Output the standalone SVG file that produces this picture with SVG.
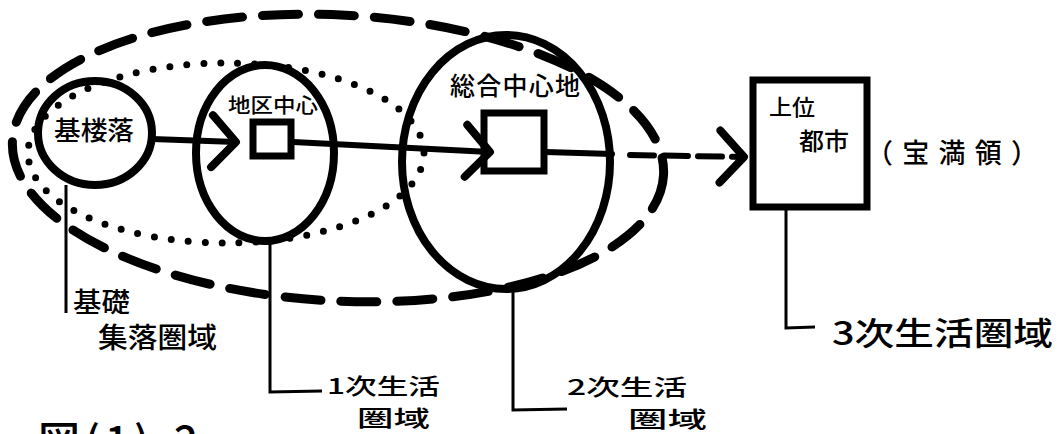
<svg xmlns="http://www.w3.org/2000/svg" width="1058" height="434" viewBox="0 0 1058 434">
<defs>
<style>
.bg{fill:#fff}
.ring{fill:none;stroke:#000;stroke-width:8}
.sq{fill:#fff;stroke:#000;stroke-width:7}
.dash{fill:none;stroke:#000;stroke-width:9;stroke-dasharray:36 20;stroke-linecap:round}
.dot{fill:none;stroke:#000;stroke-width:7;stroke-dasharray:0 17;stroke-linecap:round}
.conn{fill:none;stroke:#000;stroke-width:6;stroke-linecap:round}
.lead{fill:none;stroke:#000;stroke-width:3}
.t{font-family:"Noto Sans CJK JP","Noto Sans",sans-serif;fill:#000;font-weight:500}
</style>
<marker id="chev" markerUnits="userSpaceOnUse" viewBox="-40 -40 50 80" refX="0" refY="0" markerWidth="50" markerHeight="80" orient="auto" overflow="visible">
<path d="M -24 -26 L 0 0 L -24 26" fill="none" stroke="#000" stroke-width="8" stroke-linecap="round" stroke-linejoin="round"/>
</marker>
</defs>
<rect class="bg" x="0" y="0" width="1058" height="434"/>

<g id="region-secondary">
<ellipse class="dash" cx="338" cy="158" rx="326" ry="143" transform="rotate(3 338 158)"/>
</g>
<g id="region-primary">
<ellipse class="dot" cx="226" cy="153" rx="198" ry="90"/>
</g>

<g id="node-kiso">
<ellipse class="ring" cx="95" cy="133" rx="57" ry="52"/>
<text class="t" x="54" y="140" font-size="26" textLength="80" lengthAdjust="spacingAndGlyphs">基楼落</text>
</g>

<g id="node-chiku">
<ellipse class="ring" cx="265" cy="153" rx="69" ry="88"/>
<rect class="sq" x="253" y="122" width="38" height="34"/>
<text class="t" x="228" y="113" font-size="20" textLength="90" lengthAdjust="spacingAndGlyphs">地区中心</text>
</g>

<g id="node-sogo">
<ellipse class="ring" cx="506" cy="162" rx="104" ry="127"/>
<rect class="sq" x="484" y="113" width="60" height="58"/>
<text class="t" x="450" y="95" font-size="25" textLength="130" lengthAdjust="spacing">総合中心地</text>
</g>

<g id="node-joui">
<rect class="sq" x="753" y="80" width="114" height="127"/>
<text class="t" x="769" y="115" font-size="22" textLength="46" lengthAdjust="spacingAndGlyphs">上位</text>
<text class="t" x="799" y="150" font-size="24" textLength="50" lengthAdjust="spacingAndGlyphs">都市</text>
<text class="t" x="866" y="163" font-size="27" textLength="172" lengthAdjust="spacing">（宝満領）</text>
</g>

<g id="connectors">
<line class="conn" x1="152" y1="139" x2="236" y2="142" marker-end="url(#chev)"/>
<line class="conn" x1="293" y1="142" x2="490" y2="152" marker-end="url(#chev)"/>
<line class="conn" x1="546" y1="152" x2="612" y2="154"/>
<line class="conn" x1="630" y1="155" x2="744" y2="157" stroke-dasharray="24 10" marker-end="url(#chev)"/>
</g>

<g id="leaders">
<polyline class="lead" points="66,185 66,313"/>
<polyline class="lead" points="270,240 270,392 322,391"/>
<polyline class="lead" points="513,290 513,410 567,409"/>
<polyline class="lead" points="786,207 786,328 815,327"/>
</g>

<g id="labels">
<text class="t" x="73" y="312" font-size="27" textLength="57" lengthAdjust="spacingAndGlyphs">基礎</text>
<text class="t" x="98" y="348" font-size="28" textLength="119" lengthAdjust="spacingAndGlyphs">集落圏域</text>
<text class="t" x="327" y="394" font-size="22" textLength="113" lengthAdjust="spacingAndGlyphs">1次生活</text>
<text class="t" x="357" y="426" font-size="22" textLength="73" lengthAdjust="spacingAndGlyphs">圏域</text>
<text class="t" x="567" y="395" font-size="22" textLength="120" lengthAdjust="spacingAndGlyphs">2次生活</text>
<text class="t" x="628" y="427" font-size="22" textLength="79" lengthAdjust="spacingAndGlyphs">圏域</text>
<text class="t" x="832" y="345" font-size="32" textLength="221" lengthAdjust="spacingAndGlyphs">3次生活圏域</text>
<text class="t" x="38" y="457" font-size="42" textLength="160" lengthAdjust="spacing">図(1)-2</text>
</g>
</svg>
